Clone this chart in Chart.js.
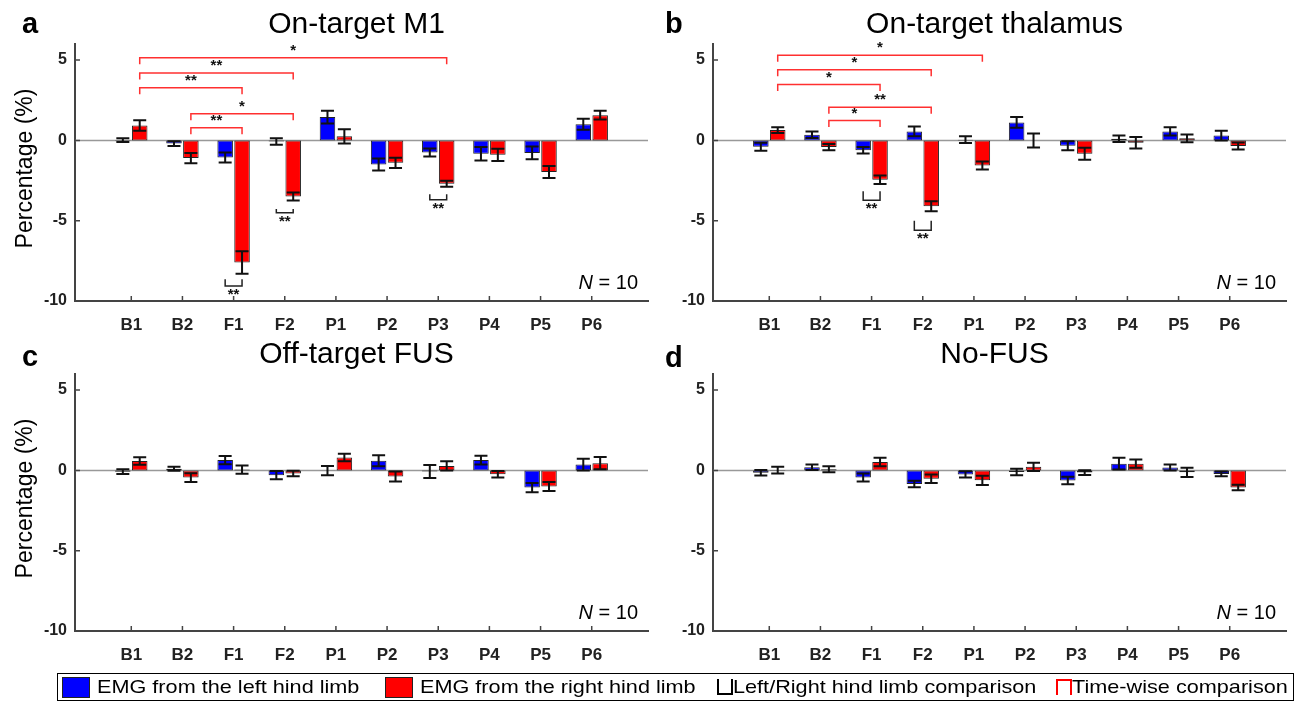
<!DOCTYPE html>
<html>
<head>
<meta charset="utf-8">
<script src="https://cdn.jsdelivr.net/npm/chart.js@4.4.1/dist/chart.umd.min.js"></script>
<style>
  body { margin: 0; background: #fff; width: 1304px; height: 701px; overflow: hidden; position: relative; font-family: Arial, "Liberation Sans", sans-serif; }
  canvas { position: absolute; }
  #legend { position: absolute; left: 57px; top: 673px; width: 1235px; height: 26px; border: 1px solid #000; }
  .sw { position: absolute; top: 3px; width: 26px; height: 19px; border: 1px solid #222; }
  .lt { position: absolute; top: 2px; font-size: 19px; color: #000; white-space: nowrap; transform: scaleX(1.14); transform-origin: left center; }
  .ic { position: absolute; top: 5px; width: 12px; height: 14px; }
</style>
</head>
<body>
<canvas id="pa" width="652" height="340" style="left:0;top:0"></canvas>
<canvas id="pb" width="652" height="340" style="left:652px;top:0"></canvas>
<canvas id="pc" width="652" height="340" style="left:0;top:330px"></canvas>
<canvas id="pd" width="652" height="340" style="left:652px;top:330px"></canvas>
<div id="legend">
  <div class="sw" style="left:4px;background:#0000ff"></div>
  <div class="lt" style="left:39px">EMG from the left hind limb</div>
  <div class="sw" style="left:327px;background:#ff0000"></div>
  <div class="lt" style="left:362px">EMG from the right hind limb</div>
  <div class="ic" style="left:659px;border:2px solid #000;border-top:none"></div>
  <div class="lt" style="left:675px">Left/Right hind limb comparison</div>
  <div class="ic" style="left:998px;border:2px solid #ff0000;border-bottom:none"></div>
  <div class="lt" style="left:1014px">Time-wise comparison</div>
</div>
<script>
var categories = ["B1", "B2", "F1", "F2", "P1", "P2", "P3", "P4", "P5", "P6"];
var yTicks = [-10, -5, 0, 5];

// a: on-target M1
var leftA = [0.02, -0.2, -1.06, -0.07, 1.45, -1.5, -0.75, -0.83, -0.78, 1.0];
var leftErrA = [0.12, 0.15, 0.31, 0.2, 0.4, 0.37, 0.25, 0.42, 0.4, 0.34];
var rightA = [0.93, -1.1, -7.6, -3.5, 0.25, -1.4, -2.7, -0.9, -1.97, 1.57];
var rightErrA = [0.33, 0.32, 0.7, 0.25, 0.45, 0.32, 0.18, 0.38, 0.38, 0.27];

// b: on-target thalamus
var leftB = [-0.4, 0.35, -0.62, 0.56, 0.04, 1.12, -0.33, 0.1, 0.56, 0.3];
var leftErrB = [0.25, 0.2, 0.2, 0.3, 0.21, 0.34, 0.28, 0.2, 0.26, 0.3];
var rightB = [0.64, -0.42, -2.45, -4.1, -1.57, -0.01, -0.83, -0.15, 0.13, -0.35];
var rightErrB = [0.18, 0.2, 0.27, 0.31, 0.25, 0.44, 0.37, 0.36, 0.24, 0.22];

// c: off-target FUS
var leftC = [-0.08, 0.1, 0.64, -0.3, -0.02, 0.6, -0.07, 0.64, -1.07, 0.36];
var leftErrC = [0.15, 0.13, 0.26, 0.26, 0.29, 0.34, 0.4, 0.27, 0.29, 0.36];
var rightC = [0.58, -0.45, 0.05, -0.2, 0.8, -0.38, 0.28, -0.24, -1.0, 0.45];
var rightErrC = [0.23, 0.27, 0.26, 0.17, 0.23, 0.31, 0.29, 0.2, 0.28, 0.38];

// d: no-FUS
var leftD = [-0.15, 0.2, -0.45, -0.85, -0.25, -0.1, -0.63, 0.42, 0.18, -0.22];
var leftErrD = [0.17, 0.17, 0.25, 0.2, 0.2, 0.2, 0.24, 0.37, 0.19, 0.15];
var rightD = [0.02, 0.07, 0.52, -0.52, -0.62, 0.22, -0.14, 0.42, -0.12, -1.07];
var rightErrD = [0.21, 0.19, 0.26, 0.27, 0.29, 0.26, 0.15, 0.26, 0.29, 0.17];

// time-wise comparisons: [from, to, level, stars]
var timeA = [[0, 6, 5.14, "*"], [0, 3, 4.2, "**"], [0, 2, 3.27, "**"], [1, 3, 1.66, "*"], [1, 2, 0.79, "**"]];
var timeB = [[0, 4, 5.3, "*"], [0, 3, 4.39, "*"], [0, 2, 3.48, "*"], [1, 3, 2.07, "**"], [1, 2, 1.24, "*"]];
// left/right comparisons: [category, top, bottom, stars]
var lrA = [[2, -8.65, -9.07, "**"], [3, -4.27, -4.51, "**"], [6, -3.35, -3.69, "**"]];
var lrB = [[2, -3.17, -3.73, "**"], [3, -5.01, -5.59, "**"]];

var FONT = "Arial, 'Liberation Sans', sans-serif";

var decor = {
  id: "decor",
  beforeDatasetsDraw: function(chart) {
    var ctx = chart.ctx, a = chart.chartArea, y = chart.scales.y, x = chart.scales.x;
    ctx.save();
    ctx.strokeStyle = "#999";
    ctx.lineWidth = 1.5;
    ctx.beginPath();
    ctx.moveTo(a.left, y.getPixelForValue(0));
    ctx.lineTo(a.right, y.getPixelForValue(0));
    ctx.stroke();
    // inward ticks
    ctx.strokeStyle = "#444";
    ctx.lineWidth = 1.5;
    ctx.beginPath();
    categories.forEach(function(c, i) {
      var px = x.getPixelForValue(i);
      ctx.moveTo(px, a.bottom);
      ctx.lineTo(px, a.bottom - 5);
    });
    yTicks.forEach(function(v) {
      var py = y.getPixelForValue(v);
      ctx.moveTo(a.left, py);
      ctx.lineTo(a.left + 5, py);
    });
    ctx.stroke();
    ctx.restore();
  },
  afterDatasetsDraw: function(chart, args, opts) {
    var ctx = chart.ctx, a = chart.chartArea, y = chart.scales.y;
    ctx.save();
    // error bars
    ctx.strokeStyle = "#111";
    ctx.lineWidth = 2;
    chart.data.datasets.forEach(function(ds, di) {
      var meta = chart.getDatasetMeta(di);
      meta.data.forEach(function(bar, i) {
        var v = ds.data[i].y, e = ds.err[i];
        var top = y.getPixelForValue(v + e), bot = y.getPixelForValue(v - e);
        ctx.beginPath();
        ctx.moveTo(bar.x, top); ctx.lineTo(bar.x, bot);
        ctx.moveTo(bar.x - 6.5, top); ctx.lineTo(bar.x + 6.5, top);
        ctx.moveTo(bar.x - 6.5, bot); ctx.lineTo(bar.x + 6.5, bot);
        ctx.stroke();
      });
    });
    var blue = chart.getDatasetMeta(0).data, red = chart.getDatasetMeta(1).data;
    ctx.font = "bold 15px " + FONT;
    ctx.textAlign = "center";
    // time-wise brackets
    ctx.strokeStyle = "#ff3030";
    ctx.lineWidth = 1.5;
    (opts.time || []).forEach(function(b) {
      var x1 = red[b[0]].x, x2 = red[b[1]].x, py = y.getPixelForValue(b[2]);
      ctx.beginPath();
      ctx.moveTo(x1, py + 6.5); ctx.lineTo(x1, py); ctx.lineTo(x2, py); ctx.lineTo(x2, py + 6.5);
      ctx.stroke();
      ctx.fillStyle = "#111";
      ctx.textBaseline = "middle";
      ctx.fillText(b[3], (x1 + x2) / 2, py - 7);
    });
    // left/right brackets
    ctx.strokeStyle = "#222";
    (opts.lr || []).forEach(function(b) {
      var x1 = blue[b[0]].x, x2 = red[b[0]].x;
      var pt = y.getPixelForValue(b[1]), pb = y.getPixelForValue(b[2]);
      ctx.beginPath();
      ctx.moveTo(x1, pt); ctx.lineTo(x1, pb); ctx.lineTo(x2, pb); ctx.lineTo(x2, pt);
      ctx.stroke();
      ctx.fillStyle = "#111";
      ctx.textBaseline = "middle";
      ctx.fillText(b[3], (x1 + x2) / 2, pb + 9);
    });
    ctx.restore();
  },
  afterDraw: function(chart, args, opts) {
    var ctx = chart.ctx, a = chart.chartArea;
    ctx.save();
    ctx.fillStyle = "#000";
    ctx.textBaseline = "alphabetic";
    ctx.textAlign = "left";
    ctx.font = "bold 29px " + FONT;
    ctx.fillText(opts.letter, opts.letterX, opts.letterY);
    ctx.textAlign = "center";
    ctx.font = "30px " + FONT;
    ctx.fillText(opts.title, (a.left + a.right) / 2 - 5, a.top - 11);
    if (opts.ylabel) {
      ctx.save();
      ctx.translate(26, (a.top + a.bottom) / 2 - 4);
      ctx.rotate(-Math.PI / 2);
      ctx.font = "23px " + FONT;
      ctx.textBaseline = "middle";
      ctx.fillText("Percentage (%)", 0, 0);
      ctx.restore();
    }
    // N = 10
    ctx.textAlign = "right";
    ctx.font = "20px " + FONT;
    var rest = " = 10";
    var rw = ctx.measureText(rest).width;
    var rx = a.right - 10;
    ctx.fillText(rest, rx, a.bottom - 12);
    ctx.font = "italic 20px " + FONT;
    ctx.fillText("N", rx - rw, a.bottom - 12);
    ctx.restore();
  }
};

function makePanel(id, left, leftErr, right, rightErr, cfg) {
  var toXY = function(vals) {
    return vals.map(function(v, i) { return { x: i, y: v }; });
  };
  new Chart(document.getElementById(id), {
    type: "bar",
    data: {
      datasets: [
        { data: toXY(left), err: leftErr, backgroundColor: "#0000ff", borderColor: "#222", borderWidth: 1, borderSkipped: false },
        { data: toXY(right), err: rightErr, backgroundColor: "#ff0000", borderColor: "#222", borderWidth: 1, borderSkipped: false }
      ]
    },
    options: {
      responsive: false,
      animation: false,
      events: [],
      categoryPercentage: 0.66,
      barPercentage: 0.92,
      layout: { padding: { top: 44, right: cfg.padRight, left: 0, bottom: 0 } },
      plugins: {
        legend: { display: false },
        tooltip: { enabled: false },
        decor: cfg.decor
      },
      scales: {
        x: {
          type: "linear",
          min: -1.1,
          max: 10.1,
          offset: false,
          grid: { display: false, drawTicks: false },
          border: { display: true, color: "#444", width: 2 },
          ticks: {
            autoSkip: false,
            maxRotation: 0,
            padding: 14,
            color: "#222",
            font: { family: FONT, weight: "bold", size: 17 },
            callback: function(v) { return categories[v]; }
          },
          afterBuildTicks: function(s) {
            s.ticks = categories.map(function(c, i) { return { value: i }; });
          },
          afterFit: function(s) { s.height = 39; }
        },
        y: {
          min: -10,
          max: 6,
          grid: { display: false, drawTicks: false },
          border: { display: true, color: "#444", width: 2 },
          ticks: {
            padding: 8,
            color: "#222",
            font: { family: FONT, weight: "bold", size: 16 }
          },
          afterBuildTicks: function(s) {
            s.ticks = yTicks.map(function(v) { return { value: v }; });
          },
          afterFit: function(s) { s.width = cfg.yWidth; }
        }
      }
    },
    plugins: [decor]
  });
}

makePanel("pa", leftA, leftErrA, rightA, rightErrA, {
  yWidth: 75, padRight: 4,
  decor: { letter: "a", letterX: 22, letterY: 33, title: "On-target M1", ylabel: true, time: timeA, lr: lrA }
});
makePanel("pb", leftB, leftErrB, rightB, rightErrB, {
  yWidth: 61, padRight: 18,
  decor: { letter: "b", letterX: 13, letterY: 33, title: "On-target thalamus", ylabel: false, time: timeB, lr: lrB }
});
makePanel("pc", leftC, leftErrC, rightC, rightErrC, {
  yWidth: 75, padRight: 4,
  decor: { letter: "c", letterX: 22, letterY: 36, title: "Off-target FUS", ylabel: true }
});
makePanel("pd", leftD, leftErrD, rightD, rightErrD, {
  yWidth: 61, padRight: 18,
  decor: { letter: "d", letterX: 13, letterY: 37, title: "No-FUS", ylabel: false }
});
</script>
</body>
</html>
